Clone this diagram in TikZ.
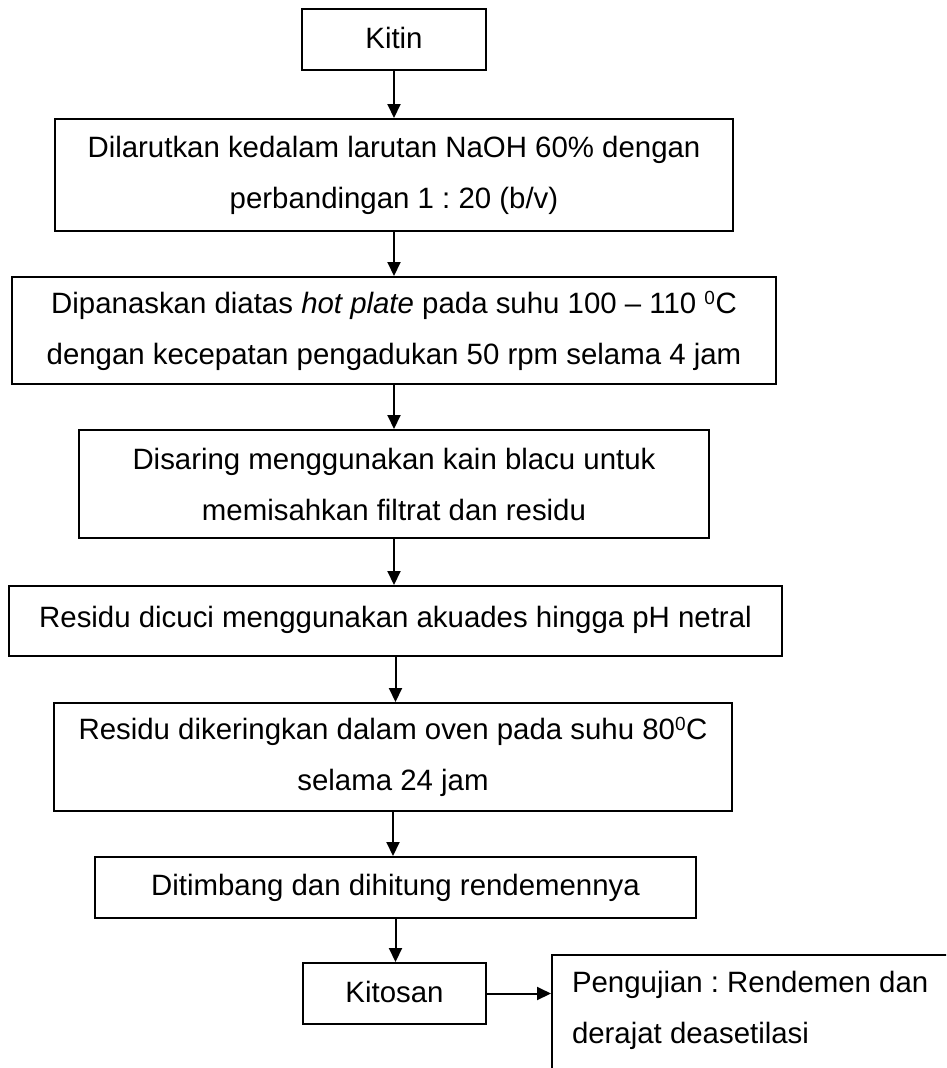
\documentclass[tikz,border=0pt]{standalone}
\usepackage{fontspec}
\setmainfont{Liberation Sans}
\usetikzlibrary{arrows.meta}
\newcommand{\degsup}{\textsuperscript{\fontsize{19}{19}\selectfont 0}}
\begin{document}
\begin{tikzpicture}[x=1pt,y=-1pt,
  every node/.style={font=\fontsize{29.4}{51}\selectfont\frenchspacing},
  box/.style={draw, line width=2pt, inner sep=0pt, align=center},
  arr/.style={line width=2pt, -{Triangle[length=14pt,width=13pt]}}]
\useasboundingbox (0,0) rectangle (946,1068);
\begin{scope}
\clip (0,0) rectangle (946,1068);
\node[box, minimum width=184pt, minimum height=61pt] (kitin) at (394,39.5) {\raisebox{3pt}{Kitin}};
\node[box, minimum width=678pt, minimum height=112pt] (dil) at (394,175) {Dilarutkan kedalam larutan NaOH 60\% dengan\\perbandingan 1 : 20 (b/v)};
\node[box, minimum width=764pt, minimum height=107pt] (pan) at (394,330.5) {Dipanaskan diatas \textit{hot plate} pada suhu 100 -- 110 \degsup C\\dengan kecepatan pengadukan 50 rpm selama 4 jam};
\node[box, minimum width=630pt, minimum height=108pt] (sar) at (394,484) {Disaring menggunakan kain blacu untuk\\memisahkan filtrat dan residu};
\node[box, minimum width=773pt, minimum height=70pt] (cuci) at (395.5,621) {\raisebox{8pt}{Residu dicuci menggunakan akuades hingga pH netral}};
\node[box, minimum width=678pt, minimum height=108pt] (dik) at (393,757) {Residu dikeringkan dalam oven pada suhu 80\degsup C\\selama 24 jam};
\node[box, minimum width=601pt, minimum height=61pt] (tim) at (395.5,887.5) {\raisebox{3pt}{Ditimbang dan dihitung rendemennya}};
\node[box, minimum width=183pt, minimum height=61pt] (kit) at (394.5,993.5) {\raisebox{3pt}{Kitosan}};
\node[draw, line width=2pt, anchor=text, text width=380pt, align=flush left, inner xsep=20pt, inner ysep=16pt] (peng) at (572,992) {Pengujian : Rendemen dan\\derajat deasetilasi\\\rule{0pt}{40pt}};
\draw[arr] (kitin.south) -- (kitin.south |- dil.north);
\draw[arr] (dil.south) -- (dil.south |- pan.north);
\draw[arr] (pan.south) -- (pan.south |- sar.north);
\draw[arr] (sar.south) -- (sar.south |- cuci.north);
\draw[arr] (cuci.south) -- (cuci.south |- dik.north);
\draw[arr] (dik.south) -- (dik.south |- tim.north);
\draw[arr] (tim.south) -- (tim.south |- kit.north);
\draw[arr] (kit.east) -- (kit.east -| peng.west);
\end{scope}
\end{tikzpicture}
\end{document}
